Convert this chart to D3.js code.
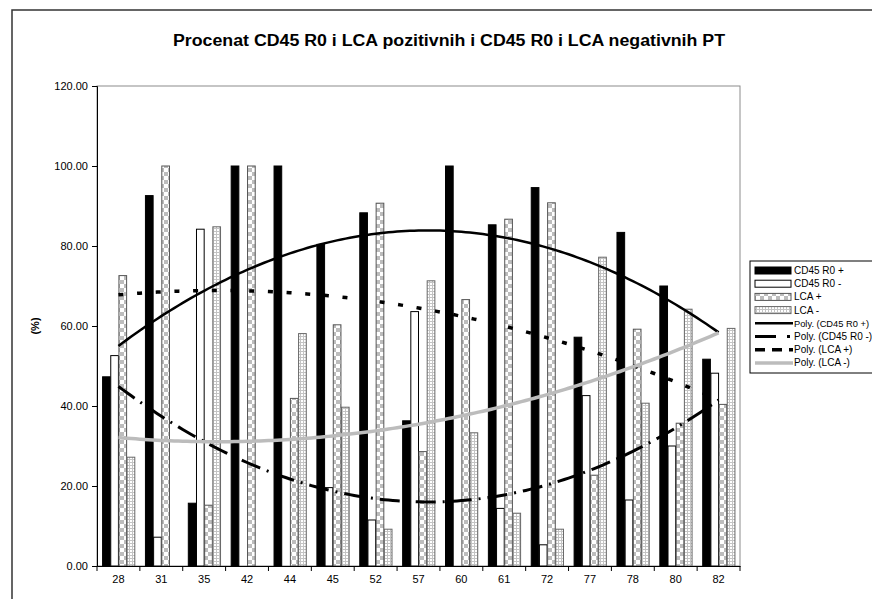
<!DOCTYPE html>
<html><head><meta charset="utf-8">
<script src="https://cdn.jsdelivr.net/npm/d3@7"></script>
<style>body{margin:0;background:#fff} svg{display:block}</style>
</head><body><svg id="c" width="872" height="599"></svg>
<script>
const categories = ["28","31","35","42","44","45","52","57","60","61","72","77","78","80","82"];
const cd45Pos = [47.3,92.6,15.7,100,100,80.4,88.3,36.3,100,85.3,94.6,57.2,83.4,70.0,51.7];
const cd45Neg = [52.6,7.2,84.2,0,0,19.6,11.5,63.6,0,14.4,5.3,42.6,16.5,30.0,48.2];
const lcaPos  = [72.6,100,15.2,100,41.9,60.3,90.7,28.6,66.6,86.7,90.8,22.7,59.2,35.7,40.4];
const lcaNeg  = [27.2,0,84.8,0,58.1,39.7,9.2,71.3,33.3,13.2,9.2,77.2,40.7,64.2,59.4];
const yTicks = [0,20,40,60,80,100,120];
const seriesNames = ["CD45 R0 +","CD45 R0 -","LCA +","LCA -"];
const trendNames = ["Poly. (CD45 R0 +)","Poly. (CD45 R0 -)","Poly. (LCA +)","Poly. (LCA -)"];
const titleText = "Procenat CD45 R0 i LCA pozitivnih i CD45 R0 i LCA negativnih PT";
const yTitle = "(%)";

const series = [cd45Pos, cd45Neg, lcaPos, lcaNeg];
const svg = d3.select("#c");
const L = 97, R = 740, T = 86, B = 566;
const font = "'Liberation Sans', Arial, sans-serif";

const defs = svg.append("defs");
const chk = defs.append("pattern").attr("id","chk").attr("patternUnits","userSpaceOnUse")
  .attr("width",8).attr("height",8);
chk.append("rect").attr("width",8).attr("height",8).attr("fill","#fff");
chk.append("rect").attr("width",4).attr("height",4).attr("fill","#bdbdbd");
chk.append("rect").attr("x",4).attr("y",4).attr("width",4).attr("height",4).attr("fill","#bdbdbd");
const grd = defs.append("pattern").attr("id","grd").attr("patternUnits","userSpaceOnUse")
  .attr("width",3).attr("height",3);
grd.append("rect").attr("width",3).attr("height",3).attr("fill","#c4c4c4");
grd.append("rect").attr("x",1).attr("y",1).attr("width",2).attr("height",2).attr("fill","#fff");

const fills = ["#000","#fff","url(#chk)","url(#grd)"];
const strokes = ["#000","#000","#555","#666"];

// chart area border
svg.append("rect").attr("x",12).attr("y",10).attr("width",900).attr("height",640)
  .attr("fill","none").attr("stroke","#333").attr("stroke-width",1.5);

svg.append("text").attr("x",449).attr("y",46).attr("text-anchor","middle")
  .attr("font-family",font).attr("font-weight","bold").attr("font-size",16)
  .attr("textLength",552).attr("lengthAdjust","spacingAndGlyphs").text(titleText);

const x0 = d3.scaleBand().domain(categories).range([L,R]).padding(0);
const x1 = d3.scaleBand().domain(d3.range(4)).range([0,x0.bandwidth()]).paddingInner(0).paddingOuter(0.62);
const y = d3.scaleLinear().domain([0,120]).range([B,T]);
const xt = d3.scaleLinear().domain([0.5,15.5]).range([L,R]);

// plot border
svg.append("rect").attr("x",L).attr("y",T).attr("width",R-L).attr("height",B-T)
  .attr("fill","#fff").attr("stroke","#8c8c8c").attr("stroke-width",1);

// bars
series.forEach((vals,si)=>{
  svg.append("g").selectAll("rect").data(vals).join("rect")
    .attr("x",(d,i)=>x0(categories[i])+x1(si)+0.5)
    .attr("y",d=>y(d))
    .attr("width",x1.bandwidth()-0.5)
    .attr("height",d=>B-y(d))
    .attr("fill",fills[si]).attr("stroke",strokes[si]).attr("stroke-width",d=>d>0?1:0);
});

// polynomial (order 2) trendlines via least squares on the data
function polyFit(vals){
  const S=[0,0,0,0,0], Ty=[0,0,0];
  vals.forEach((v,i)=>{const t=i+1;for(let k=0;k<5;k++)S[k]+=Math.pow(t,k);for(let k=0;k<3;k++)Ty[k]+=v*Math.pow(t,k);});
  const M=[[S[0],S[1],S[2],Ty[0]],[S[1],S[2],S[3],Ty[1]],[S[2],S[3],S[4],Ty[2]]];
  for(let c=0;c<3;c++){for(let r=c+1;r<3;r++){const f=M[r][c]/M[c][c];for(let k=c;k<4;k++)M[r][k]-=f*M[c][k];}}
  const s=[0,0,0];
  for(let r=2;r>=0;r--){let v=M[r][3];for(let k=r+1;k<3;k++)v-=M[r][k]*s[k];s[r]=v/M[r][r];}
  return s;
}
const trendStyles = [
  {stroke:"#000",w:2.5,dash:null,ldash:null},
  {stroke:"#000",w:3,dash:"20 7 2 7",ldash:"21 11 3 20"},
  {stroke:"#000",w:3.5,dash:"5 13.7",ldash:"10 7"},
  {stroke:"#bcbcbc",w:3.5,dash:null,ldash:null}
];
const line = d3.line().x(d=>xt(d[0])).y(d=>y(d[1]));
series.forEach((vals,si)=>{
  const c = polyFit(vals);
  const pts = d3.range(1,15.001,0.1).map(t=>[t,c[0]+c[1]*t+c[2]*t*t]);
  const st = trendStyles[si];
  svg.append("path").datum(pts).attr("d",line).attr("fill","none")
    .attr("stroke",st.stroke).attr("stroke-width",st.w)
    .attr("stroke-dasharray",st.dash);
});

// axes
const yAxis = d3.axisLeft(y).tickValues(yTicks).tickFormat(d3.format(".2f")).tickSize(5).tickPadding(4);
const gy = svg.append("g").attr("transform",`translate(${L},0)`).call(yAxis);
gy.select(".domain").attr("stroke","#000");
gy.selectAll("text").attr("font-family",font).attr("font-size",11).attr("fill","#000");
gy.selectAll("line").attr("stroke","#000");

const xAxis = d3.axisBottom(x0).tickSize(0).tickPadding(9);
const gx = svg.append("g").attr("transform",`translate(0,${B})`).call(xAxis);
gx.select(".domain").attr("stroke","#000");
gx.selectAll("text").attr("font-family",font).attr("font-size",11).attr("fill","#000");
gx.selectAll(".bound").data(d3.range(16)).join("line").attr("class","bound")
  .attr("x1",i=>L+i*x0.step()).attr("x2",i=>L+i*x0.step()).attr("y1",0).attr("y2",5).attr("stroke","#000");

svg.append("text").attr("transform","translate(39,326) rotate(-90)").attr("text-anchor","middle")
  .attr("font-family",font).attr("font-weight","bold").attr("font-size",11).text(yTitle);

// legend
const lg = svg.append("g");
lg.append("rect").attr("x",750).attr("y",261).attr("width",200).attr("height",112)
  .attr("fill","#fff").attr("stroke","#000").attr("stroke-width",1);
const names = seriesNames.concat(trendNames);
names.forEach((n,i)=>{
  const cy = 270.5 + i*13.2;
  if(i<4){
    lg.append("rect").attr("x",755).attr("y",cy-3.5).attr("width",36).attr("height",7)
      .attr("fill",fills[i]).attr("stroke",strokes[i]).attr("stroke-width",1);
  } else {
    const st = trendStyles[i-4];
    lg.append("line").attr("x1",755).attr("x2",793).attr("y1",cy).attr("y2",cy)
      .attr("stroke",st.stroke).attr("stroke-width",st.w).attr("stroke-dasharray",st.ldash);
  }
  lg.append("text").attr("x",794).attr("y",cy+3.5).attr("font-family",font)
    .attr("font-size", i===4 ? 9.3 : 10).text(n);
});
</script></body></html>
